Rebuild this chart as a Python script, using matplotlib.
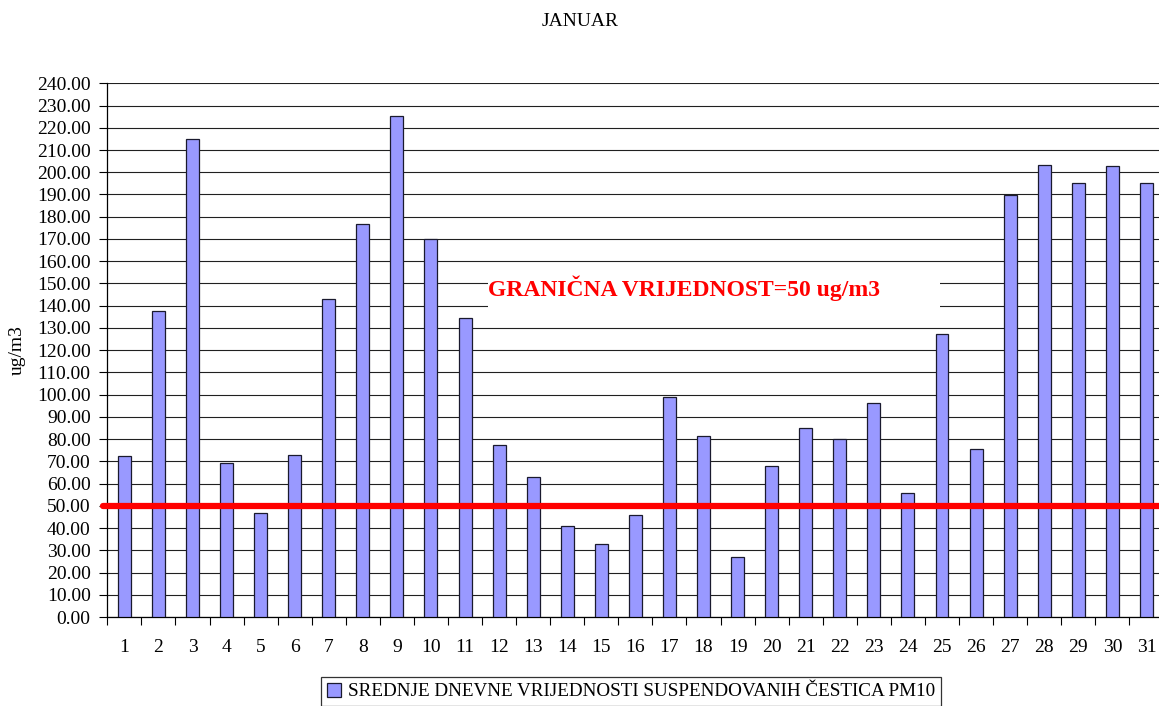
import matplotlib

matplotlib.use("Agg")
import matplotlib.pyplot as plt
from matplotlib.patches import Rectangle
from matplotlib.ticker import FormatStrFormatter
import numpy as np

plt.rcParams["font.family"] = ["Liberation Serif", "DejaVu Serif"]

days = list(range(1, 32))
pm10 = [72.3, 137.7, 215.0, 69.1, 46.9, 72.9, 143.1, 176.8, 225.5, 170.2,
        134.4, 77.4, 63.0, 40.9, 32.7, 45.9, 99.0, 81.3, 27.0, 67.9,
        85.2, 79.9, 96.3, 55.8, 127.1, 75.7, 189.7, 203.3, 195.1, 202.7, 195.1]
limit = 50
title = "JANUAR"
ylabel = "ug/m3"
limit_label = "GRANIČNA VRIJEDNOST=50 ug/m3"
series_label = "SREDNJE DNEVNE VRIJEDNOSTI SUSPENDOVANIH ČESTICA PM10"

W, H = 1159, 706
fig = plt.figure(figsize=(W / 100, H / 100), dpi=100)
ax = fig.add_axes([107.3 / W, 1 - 617 / H, 31 * 34.07 / W, (617 - 83.3) / H])

ax.bar(days, pm10, width=0.38, color="#9999FF", edgecolor="#1a1a2e",
       linewidth=0.9, zorder=3, label=series_label)

ax.set_xlim(0.5, 31.5)
ax.set_ylim(0, 240)
ax.set_yticks(np.arange(0, 241, 10))
ax.yaxis.set_major_formatter(FormatStrFormatter("%.2f"))
ax.yaxis.grid(True, color="#202020", linewidth=0.8, zorder=0)
ax.set_axisbelow(True)

# category boundaries get the tick marks, labels sit at the centres
ax.set_xticks(np.arange(0.5, 32, 1))
ax.set_xticklabels([])
ax.set_xticks(days, minor=True)
ax.set_xticklabels([str(d) for d in days], minor=True)
ax.tick_params(axis="x", which="major", direction="out", length=6, width=0.8)
ax.tick_params(axis="x", which="minor", length=0, pad=16, labelsize=14)
ax.tick_params(axis="y", direction="out", length=6, width=0.8, pad=6, labelsize=14)

for s in ("top", "right"):
    ax.spines[s].set_visible(False)
for s in ("left", "bottom"):
    ax.spines[s].set_linewidth(0.9)

ax.axhline(limit, xmin=-0.004, color="red", linewidth=4.5,
           solid_capstyle="round", zorder=5, clip_on=False)

# white box behind the limit label hides the gridlines
ax.add_patch(Rectangle((11.68, 136), 24.94 - 11.68, 18, facecolor="white",
                       edgecolor="none", zorder=1))
ax.text(11.68, 148, limit_label, color="red", fontsize=17, fontweight="bold",
        ha="left", va="center", zorder=6)

fig.text(580 / W, 1 - 22 / H, title, ha="center", va="center", fontsize=14)
fig.text(17 / W, 1 - 350 / H, ylabel, ha="center", va="center",
         rotation=90, fontsize=14)

leg = fig.legend(loc="upper left", bbox_to_anchor=(321 / W, 1 - 677 / H),
                 fontsize=13.8, frameon=True, fancybox=False, borderpad=0.3,
                 handlelength=0.75, handleheight=0.75, handletextpad=0.35,
                 borderaxespad=0)
leg.get_frame().set_edgecolor("black")
leg.get_frame().set_linewidth(0.9)

fig.savefig("out.png", dpi=100)
